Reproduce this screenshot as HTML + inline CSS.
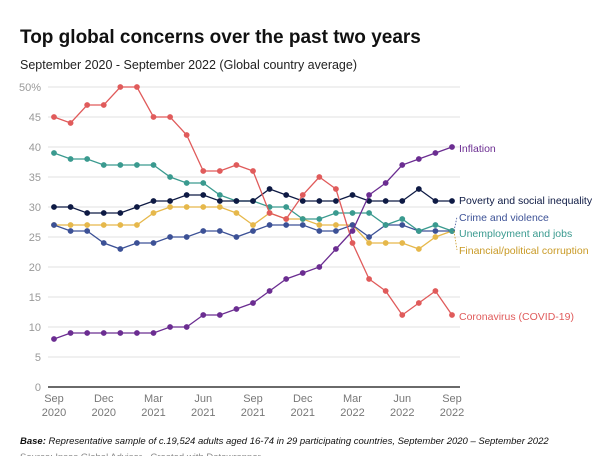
<!DOCTYPE html>
<html><head><meta charset="utf-8"><style>
body{margin:0;background:#fff;width:600px;height:456px;overflow:hidden;font-family:"Liberation Sans",sans-serif;}
</style></head><body>
<svg width="600" height="456" xmlns="http://www.w3.org/2000/svg">
<text x="20" y="43" font-size="19" font-weight="bold" fill="#111">Top global concerns over the past two years</text>
<text x="20" y="69" font-size="12.5" fill="#222">September 2020 - September 2022 (Global country average)</text>
<g id="grid"></g><g id="series"></g><g id="labels"></g>
<text x="20" y="444" font-size="9.5" font-style="italic" fill="#111"><tspan font-weight="bold">Base:</tspan> Representative sample of c.19,524 adults aged 16-74 in 29 participating countries, September 2020 – September 2022</text>
<text x="20" y="460" font-size="9.5" fill="#888">Source: Ipsos Global Advisor · Created with Datawrapper</text>
</svg>
<script>
const yTicks=[0,5,10,15,20,25,30,35,40,45,50];
const xTickMonths=["Sep","Dec","Mar","Jun","Sep","Dec","Mar","Jun","Sep"];
const xTickYears=["2020","2020","2021","2021","2021","2021","2022","2022","2022"];
const names=["Inflation","Poverty and social inequality","Crime and violence","Unemployment and jobs","Financial/political corruption","Coronavirus (COVID-19)"];
const inflation=[8,9,9,9,9,9,9,10,10,12,12,13,14,16,18,19,20,23,26,32,34,37,38,39,40];
const poverty=[30,30,29,29,29,30,31,31,32,32,31,31,31,33,32,31,31,31,32,31,31,31,33,31,31];
const crime=[27,26,26,24,23,24,24,25,25,26,26,25,26,27,27,27,26,26,27,25,27,27,26,26,26];
const unemployment=[39,38,38,37,37,37,37,35,34,34,32,31,31,30,30,28,28,29,29,29,27,28,26,27,26];
const financial=[27,27,27,27,27,27,29,30,30,30,30,29,27,29,28,28,27,27,27,24,24,24,23,25,26];
const covid=[45,44,47,47,50,50,45,45,42,36,36,37,36,29,28,32,35,33,24,18,16,12,14,16,12];
const colors=["#6b2d91","#0e1a44","#3c5196","#3a9a8f","#e6b84b","#e05b5b"];
const labelColors=["#6b2d91","#0e1a44","#3c5196","#3a9a8f","#c99a25","#e05b5b"];
const labelY=[152,204,221,237,254,320];
const NS="http://www.w3.org/2000/svg";
const X=i=>54+i*(398/24);
const Y=v=>387-6*v;
function mk(t,a,p){const e=document.createElementNS(NS,t);for(const k in a)e.setAttribute(k,a[k]);p.appendChild(e);return e;}
const grid=document.getElementById('grid');
yTicks.forEach(v=>{
  const l=mk('line',{x1:48,x2:460,y1:Y(v),y2:Y(v),stroke:v===0?'#111':'#e2e2e2','stroke-width':v===0?1.2:1},grid);
  
  
  const t=mk('text',{x:41,y:Y(v)+4,'font-size':11,fill:'#999','text-anchor':'end'},grid);
  t.textContent=v+(v===50?'%':'');
  
  
});
xTickMonths.forEach((m,k)=>{
  const t=mk('text',{x:X(k*3),y:402,'font-size':11,fill:'#777','text-anchor':'middle'},grid);
  t.textContent=m;
  
  
  const t2=mk('text',{x:X(k*3),y:416,'font-size':11,fill:'#777','text-anchor':'middle'},grid);
  t2.textContent=xTickYears[k];
  
  
});
const all=[inflation,poverty,crime,unemployment,financial,covid];
const sg=document.getElementById('series');
const order=[4,2,3,1,5,0];
order.forEach(s=>{
  const d=all[s];
  const g=mk('g',{},sg);
  
  
  const p=mk('polyline',{points:d.map((v,i)=>X(i)+','+Y(v)).join(' '),fill:'none',stroke:colors[s],'stroke-width':1.3},g);
  
  
  d.forEach((v,i)=>{
    const c=mk('circle',{cx:X(i),cy:Y(v),r:2.9,fill:colors[s]},g);
    
    
  });
});
const lg=document.getElementById('labels');
names.forEach((n,s)=>{
  const ly=Y(all[s][all[s].length-1]);
  if(Math.abs(labelY[s]-4-ly)>3){
    const l=mk('line',{x1:X(24)+2,y1:ly,x2:457,y2:labelY[s]-4,stroke:labelColors[s],'stroke-width':0.8,'stroke-dasharray':'1.5,1.5'},lg);
    
    
  }
  const t=mk('text',{x:459,y:labelY[s],'font-size':10.5,fill:labelColors[s]},lg);
  t.textContent=n;
  
  
});
</script>
</body></html>
